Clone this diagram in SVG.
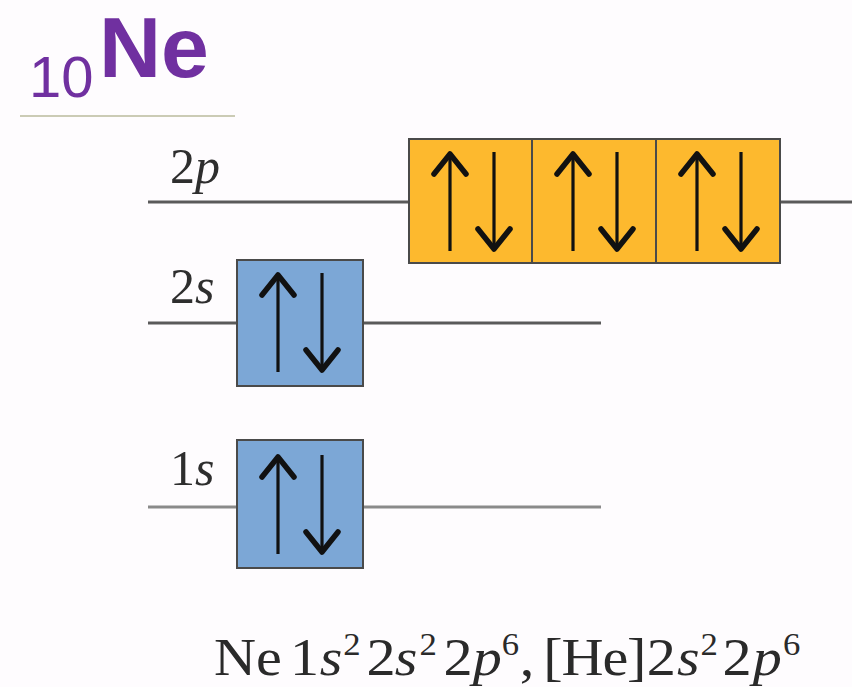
<svg xmlns="http://www.w3.org/2000/svg" width="852" height="687" viewBox="0 0 852 687">
  <style>
    .lvl { stroke: #5a5a5a; stroke-width: 3; fill: none; }
    .lvl-light { stroke: #8a8a8a; stroke-width: 3; fill: none; }
    .box-p { fill: #fdb92e; stroke: #4a4a4a; stroke-width: 2; }
    .box-s { fill: #7ca7d6; stroke: #4a4a4a; stroke-width: 2; }
    .shaft { stroke: #111; stroke-width: 3.2; fill: none; }
    .head { stroke: #111; stroke-width: 5.5; fill: none; stroke-linecap: round; stroke-linejoin: round; }
    .lab { font-family: "Liberation Serif", "Times New Roman", serif; font-size: 50px; fill: #2e2e2e; }
    .it { font-style: italic; }
    .formula { font-family: "Liberation Serif", "Times New Roman", serif; font-size: 52px; fill: #2a2a2a; }
    .sup { font-size: 31px; }
    .title { font-family: "Liberation Sans", Arial, sans-serif; fill: #7030a0; }
  </style>
  <defs>
    <g id="pair">
      <line class="shaft" x1="41" y1="112" x2="41" y2="16"/>
      <polyline class="head" points="25,35 41,15 57,35"/>
      <line class="shaft" x1="85" y1="13" x2="85" y2="109"/>
      <polyline class="head" points="69,90 85,110 101,90"/>
    </g>
  </defs>
  <rect width="852" height="687" fill="#fefcfe"/>

  <g id="title">
    <text class="title" x="29" y="97" font-size="58">10</text>
    <text class="title" x="99" y="77" font-size="86" font-weight="bold">Ne</text>
    <line x1="20" y1="116" x2="235" y2="116" stroke="#cbcbb5" stroke-width="2"/>
  </g>

  <g id="connectors">
    <line class="lvl" x1="148" y1="202" x2="852" y2="202"/>
    <line class="lvl" x1="148" y1="323" x2="601" y2="323"/>
    <line class="lvl-light" x1="148" y1="507" x2="601" y2="507"/>
  </g>

  <g id="orbital-2p">
    <text class="lab" x="170" y="183">2<tspan class="it">p</tspan></text>
    <rect class="box-p" x="409" y="139" width="371" height="124"/>
    <line x1="532" y1="139" x2="532" y2="263" stroke="#4a4a4a" stroke-width="2"/>
    <line x1="656" y1="139" x2="656" y2="263" stroke="#4a4a4a" stroke-width="2"/>
    <use href="#pair" x="409" y="139"/>
    <use href="#pair" x="532" y="139"/>
    <use href="#pair" x="656" y="139"/>
  </g>

  <g id="orbital-2s">
    <text class="lab" x="170" y="303">2<tspan class="it">s</tspan></text>
    <rect class="box-s" x="237" y="260" width="126" height="126"/>
    <use href="#pair" x="237" y="260"/>
  </g>

  <g id="orbital-1s">
    <text class="lab" x="170" y="485">1<tspan class="it">s</tspan></text>
    <rect class="box-s" x="237" y="440" width="126" height="128"/>
    <use href="#pair" x="237" y="442"/>
  </g>

  <g id="formula" transform="scale(1.12 1)">
    <text class="formula" y="675"><tspan x="191">Ne</tspan><tspan x="259">1</tspan><tspan x="285.5" class="it">s</tspan><tspan x="306.5" y="655" class="sup">2</tspan><tspan x="327.2" y="675">2</tspan><tspan x="352.5" class="it">s</tspan><tspan x="374.5" y="655" class="sup">2</tspan><tspan x="396" y="675">2</tspan><tspan x="422" class="it">p</tspan><tspan x="448" y="655" class="sup">6</tspan><tspan x="464" y="675">,</tspan><tspan x="485" letter-spacing="-1">[He]</tspan><tspan x="577.5">2</tspan><tspan x="604.5" class="it">s</tspan><tspan x="625.5" y="655" class="sup">2</tspan><tspan x="645" y="675">2</tspan><tspan x="672" class="it">p</tspan><tspan x="699" y="655" class="sup">6</tspan></text>
  </g>
</svg>
